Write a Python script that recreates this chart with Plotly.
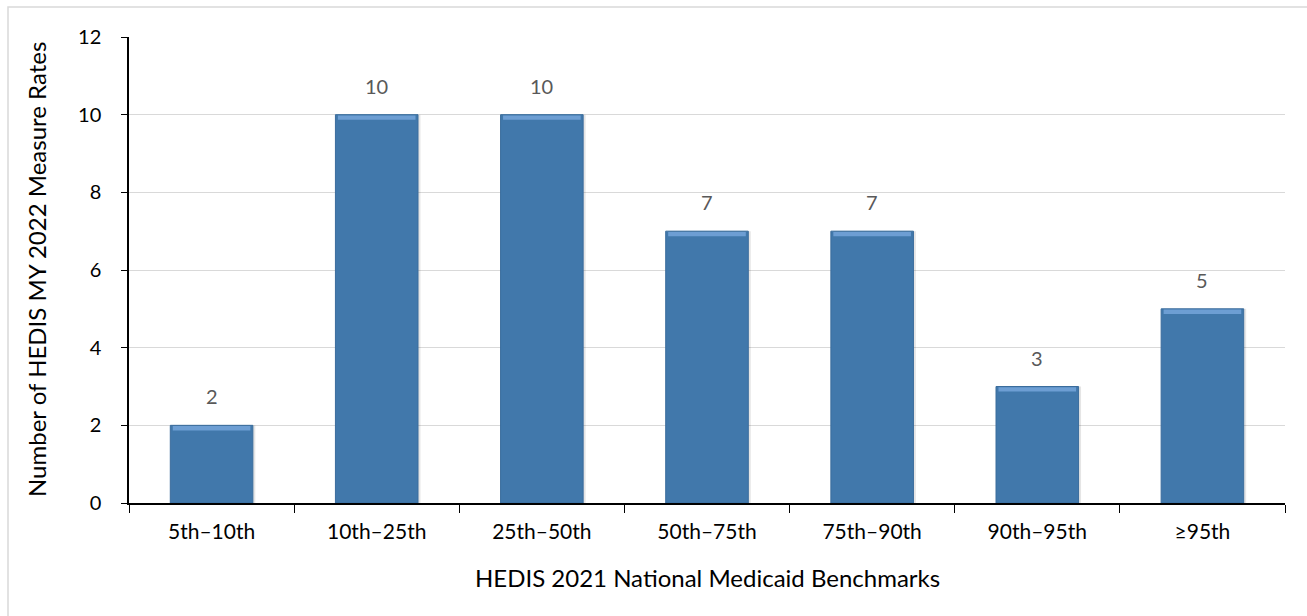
import plotly.graph_objects as go

categories = ["5th\u201310th", "10th\u201325th", "25th\u201350th", "50th\u201375th", "75th\u201390th", "90th\u201395th", "\u226595th"]
values = [2, 10, 10, 7, 7, 3, 5]
y_ticks = [0, 2, 4, 6, 8, 10, 12]

FONT = "Lato, Open Sans, sans-serif"
PW, PH = 1156, 466  # plot area size in px

fig = go.Figure()
# soft shadow on the right of each bar
fig.add_trace(go.Bar(
    x=categories, y=values, width=0.5, offset=-0.235,
    marker=dict(color="rgba(0,0,0,0.10)", line=dict(width=0)),
    hoverinfo="skip", showlegend=False,
))
fig.add_trace(go.Bar(
    x=categories, y=values, width=0.5, offset=-0.25,
    marker=dict(color="#4178AB", line=dict(color="#3A6C9C", width=1)),
    showlegend=False,
))
# bevel highlight on top of each bar
fig.add_trace(go.Bar(
    x=categories, y=[0.11] * len(values), base=[v - 0.13 for v in values], width=0.47,
    offset=-0.235,
    marker=dict(color="#6D9ED3", line=dict(width=0)), hoverinfo="skip", showlegend=False,
))

annotations = []
for c, v in zip(categories, values):
    annotations.append(dict(x=c, y=v, xref="x", yref="y", text=str(v), showarrow=False,
                            yanchor="bottom", yshift=15,
                            font=dict(family=FONT, size=20, color="#595959")))
annotations.append(dict(x=-93 / PW, y=0.5, xref="paper", yref="paper", textangle=-90,
                        text="Number of HEDIS MY 2022 Measure Rates", showarrow=False,
                        xanchor="center", yanchor="middle",
                        font=dict(family=FONT, size=24, color="#000000")))
annotations.append(dict(x=0.5, y=-74 / PH, xref="paper", yref="paper",
                        text="HEDIS 2021 National Medicaid Benchmarks", showarrow=False,
                        xanchor="center", yanchor="middle",
                        font=dict(family=FONT, size=24, color="#000000")))

fig.update_layout(
    barmode="overlay",
    width=1307, height=616,
    margin=dict(l=129, r=22, t=37, b=113),
    paper_bgcolor="white", plot_bgcolor="white",
    font=dict(family=FONT, color="#000000"),
    annotations=annotations,
    xaxis=dict(
        showline=True, linecolor="black", linewidth=1.5,
        ticks="outside", ticklen=8, tickcolor="black", tickson="boundaries",
        tickfont=dict(family=FONT, size=21, color="#000000"),
        ticklabelstandoff=9,
        showgrid=False,
    ),
    yaxis=dict(
        range=[0, 12], tickvals=y_ticks,
        showline=True, linecolor="black", linewidth=1.5,
        ticks="outside", ticklen=6, tickcolor="black",
        tickfont=dict(family=FONT, size=20, color="#000000"),
        ticklabelstandoff=16,
        showgrid=True, gridcolor="#D9D9D9", gridwidth=1,
        zeroline=False,
    ),
    shapes=[dict(type="rect", xref="paper", yref="paper",
                 x0=-121 / PW, x1=1.1, y0=-1.2, y1=1 + 30 / PH,
                 line=dict(color="#D9D9D9", width=1.5), layer="below")],
)

fig.write_html("out.html")
